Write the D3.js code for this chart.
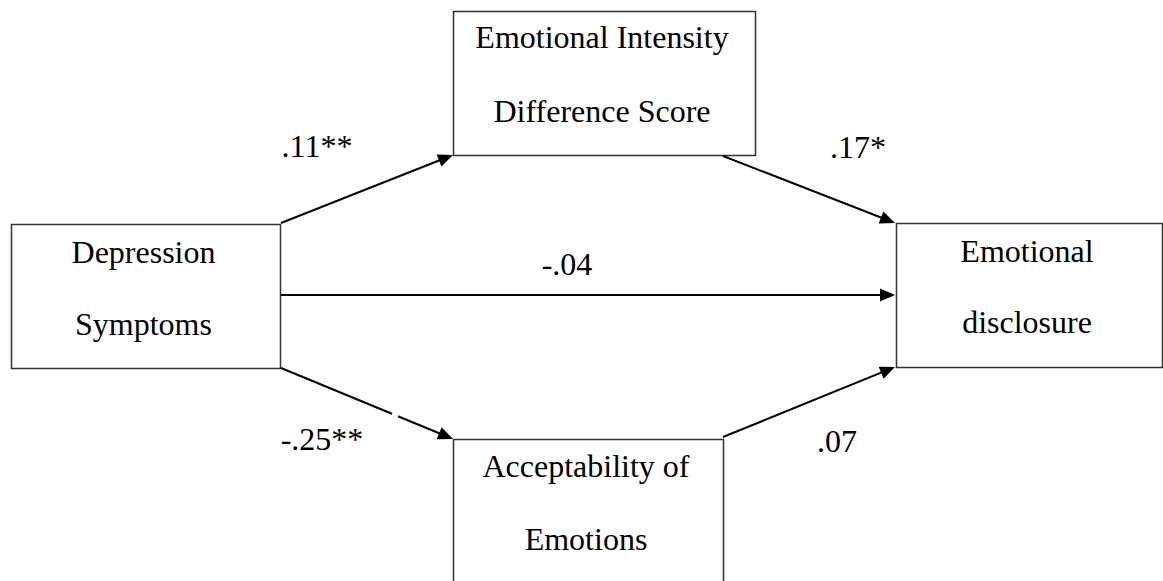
<!DOCTYPE html>
<html>
<head>
<meta charset="utf-8">
<script src="https://cdn.jsdelivr.net/npm/d3@7/dist/d3.min.js"></script>
<style>
  html, body { margin: 0; padding: 0; background: #fff; }
  svg { display: block; }
  text { font-family: "Liberation Serif", "Times New Roman", "DejaVu Serif", serif; fill: #000; }
</style>
</head>
<body>
<svg id="chart" width="1163" height="581"></svg>
<script>
// ---- data ----
const nodeIds = ["dep", "eid", "acc", "dis"];
const nodeLines = [
  ["Depression", "Symptoms"],
  ["Emotional Intensity", "Difference Score"],
  ["Acceptability of", "Emotions"],
  ["Emotional", "disclosure"]
];
const pathFrom = ["dep", "eid", "dep", "dep", "acc"];
const pathTo   = ["eid", "dis", "dis", "acc", "dis"];
const pathCoef = [".11**", ".17*", "-.04", "-.25**", ".07"];

// ---- layout (positions kept separate from data) ----
const boxLayout = {
  dep: { x0: 11,  y0: 224, x1: 280,  y1: 368, base: [263, 335] },
  eid: { x0: 453, y0: 11,  x1: 755,  y1: 155, base: [48, 122] },
  acc: { x0: 453, y0: 439, x1: 723,  y1: 620, base: [477, 550] },
  dis: { x0: 896, y0: 223, x1: 1162, y1: 367, base: [262, 333] }
};
const arrowLayout = [
  { s: [281, 223], e: [453, 155], lab: [317, 157] },
  { s: [723, 156], e: [895, 223], lab: [858, 158] },
  { s: [281, 295], e: [895, 295], lab: [567, 275] },
  { s: [281, 368], e: [453, 439], lab: [322, 450], gap: [392, 398] },
  { s: [723, 437], e: [895, 367], lab: [837, 452] }
];

const svg = d3.select("#chart");
const fontSize = 32;

// boxes
const boxes = svg.append("g").selectAll("g")
  .data(nodeIds.map((id, i) => ({ id, lines: nodeLines[i], L: boxLayout[id] })))
  .join("g");

boxes.append("rect")
  .attr("x", d => d.L.x0 + 0.5)
  .attr("y", d => d.L.y0 + 0.5)
  .attr("width", d => d.L.x1 - d.L.x0)
  .attr("height", d => d.L.y1 - d.L.y0)
  .attr("fill", "#fff")
  .attr("stroke", "#333")
  .attr("stroke-width", 1.5);

boxes.each(function(d) {
  const g = d3.select(this);
  const cx = (d.L.x0 + d.L.x1) / 2 - 2;
  d.lines.forEach((t, k) => {
    g.append("text")
      .attr("x", cx)
      .attr("y", d.L.base[k])
      .attr("text-anchor", "middle")
      .attr("font-size", fontSize)
      .attr("font-family", "Liberation Serif, Times New Roman, serif")
      .text(t);
  });
});

// arrows
const headLen = 15, headHalf = 6.5;
const arrows = svg.append("g").selectAll("g")
  .data(pathCoef.map((c, i) => ({ from: pathFrom[i], to: pathTo[i], coef: c, A: arrowLayout[i] })))
  .join("g");

arrows.each(function(d) {
  const g = d3.select(this);
  const [sx, sy] = d.A.s, [ex, ey] = d.A.e;
  const dx = ex - sx, dy = ey - sy, len = Math.hypot(dx, dy);
  const ux = dx / len, uy = dy / len;
  const bx = ex - ux * headLen, by = ey - uy * headLen;
  g.append("line")
    .attr("x1", sx).attr("y1", sy)
    .attr("x2", bx + ux * 2).attr("y2", by + uy * 2)
    .attr("stroke", "#000").attr("stroke-width", 2);
  g.append("path")
    .attr("d", d3.line()([
      [ex, ey],
      [bx - uy * headHalf, by + ux * headHalf],
      [bx + uy * headHalf, by - ux * headHalf]
    ]) + "Z")
    .attr("fill", "#000");
  if (d.A.gap) {
    const [g0, g1] = d.A.gap;
    const t0 = (g0 - sx) / dx, t1 = (g1 - sx) / dx;
    g.append("line")
      .attr("x1", g0).attr("y1", sy + dy * t0)
      .attr("x2", g1).attr("y2", sy + dy * t1)
      .attr("stroke", "#fff").attr("stroke-width", 4);
  }
  g.append("text")
    .attr("x", d.A.lab[0])
    .attr("y", d.A.lab[1])
    .attr("text-anchor", "middle")
    .attr("font-size", fontSize)
    .attr("font-family", "Liberation Serif, Times New Roman, serif")
    .text(d.coef);
});
</script>
</body>
</html>
